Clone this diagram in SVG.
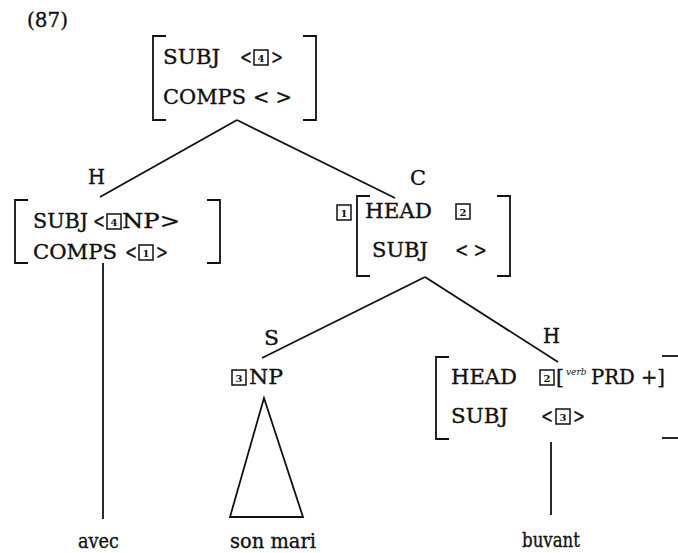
<svg xmlns="http://www.w3.org/2000/svg" width="678" height="553" viewBox="0 0 678 553">
<style>
.t{font-family:"DejaVu Serif","Liberation Serif",serif;font-size:20px;fill:#111;stroke:#111;stroke-width:0.35}
.s{font-family:"DejaVu Serif","Liberation Serif",serif;font-size:9px;font-style:italic;fill:#111}
.n{font-family:"DejaVu Serif","Liberation Serif",serif;font-size:10px;fill:#111;text-anchor:middle;font-weight:bold}
.b{fill:none;stroke:#111;stroke-width:1.8}
.bx{fill:none;stroke:#111;stroke-width:1.5}
.e{fill:none;stroke:#111;stroke-width:1.8}
</style>
<rect width="678" height="553" fill="#fff"/>
<text class="t" x="27" y="27" textLength="41" lengthAdjust="spacingAndGlyphs">(87)</text>

<g id="connectors">
<line class="e" x1="237" y1="120" x2="100" y2="197"/>
<line class="e" x1="237" y1="120" x2="395" y2="198"/>
<line class="e" x1="103" y1="263" x2="103" y2="519"/>
<line class="e" x1="425" y1="277" x2="262" y2="358"/>
<line class="e" x1="425" y1="277" x2="558" y2="362"/>
<polygon class="e" points="264,398 230,517 303,517"/>
<line class="e" x1="551" y1="442" x2="551" y2="515"/>
</g>

<g id="n-top">
<path class="b" d="M166,36 H153 V120 H166"/>
<path class="b" d="M303,36 H316 V120 H303"/>
<text class="t" x="163" y="64" textLength="57" lengthAdjust="spacingAndGlyphs">SUBJ</text>
<text class="t" x="240" y="64" textLength="12" lengthAdjust="spacingAndGlyphs">&lt;</text>
<rect class="bx" x="254" y="50" width="14" height="15"/><text class="n" x="261" y="61.5">4</text>
<text class="t" x="271" y="64" textLength="12" lengthAdjust="spacingAndGlyphs">&gt;</text>
<text class="t" x="163" y="104" textLength="83" lengthAdjust="spacingAndGlyphs">COMPS</text>
<text class="t" x="253" y="104" textLength="39" lengthAdjust="spacingAndGlyphs">&lt; &gt;</text>
</g>

<g id="n-h1">
<text class="t" x="88" y="184" textLength="17" lengthAdjust="spacingAndGlyphs">H</text>
<path class="b" d="M28,200 H15 V263 H28"/>
<path class="b" d="M207,200 H220 V263 H207"/>
<text class="t" x="33" y="228" textLength="55" lengthAdjust="spacingAndGlyphs">SUBJ</text>
<text class="t" x="93" y="228" textLength="12" lengthAdjust="spacingAndGlyphs">&lt;</text>
<rect class="bx" x="107" y="214" width="14" height="15"/><text class="n" x="114" y="225.5">4</text>
<text class="t" x="122" y="228" textLength="58" lengthAdjust="spacingAndGlyphs">NP&gt;</text>
<text class="t" x="33" y="259" textLength="84" lengthAdjust="spacingAndGlyphs">COMPS</text>
<text class="t" x="125" y="259" textLength="12" lengthAdjust="spacingAndGlyphs">&lt;</text>
<rect class="bx" x="139" y="245" width="14" height="15"/><text class="n" x="146" y="256.5">1</text>
<text class="t" x="156" y="259" textLength="12" lengthAdjust="spacingAndGlyphs">&gt;</text>
<text class="t" x="78" y="548" textLength="41" lengthAdjust="spacingAndGlyphs">avec</text>
</g>

<g id="n-c">
<text class="t" x="410" y="185" textLength="16" lengthAdjust="spacingAndGlyphs">C</text>
<rect class="bx" x="337" y="205" width="14" height="15"/><text class="n" x="344" y="216.5">1</text>
<path class="b" d="M370,196 H357 V276 H370"/>
<path class="b" d="M497,196 H510 V276 H497"/>
<text class="t" x="365" y="218" textLength="67" lengthAdjust="spacingAndGlyphs">HEAD</text>
<rect class="bx" x="456" y="204" width="14" height="15"/><text class="n" x="463" y="215.5">2</text>
<text class="t" x="372" y="257" textLength="56" lengthAdjust="spacingAndGlyphs">SUBJ</text>
<text class="t" x="455" y="257" textLength="32" lengthAdjust="spacingAndGlyphs">&lt; &gt;</text>
</g>

<g id="n-s">
<text class="t" x="264" y="345" textLength="15" lengthAdjust="spacingAndGlyphs">S</text>
<rect class="bx" x="232" y="370" width="14" height="15"/><text class="n" x="239" y="381.5">3</text>
<text class="t" x="249" y="384" textLength="34" lengthAdjust="spacingAndGlyphs">NP</text>
<text class="t" x="230" y="548" textLength="86" lengthAdjust="spacingAndGlyphs">son mari</text>
</g>

<g id="n-h2">
<text class="t" x="543" y="343" textLength="17" lengthAdjust="spacingAndGlyphs">H</text>
<path class="b" d="M449,357 H436 V439 H449"/>
<path class="b" d="M662,356 H678"/>
<path class="b" d="M662,438 H678"/>
<text class="t" x="451" y="384" textLength="66" lengthAdjust="spacingAndGlyphs">HEAD</text>
<rect class="bx" x="540" y="370" width="14" height="15"/><text class="n" x="547" y="381.5">2</text>
<text class="t" x="556" y="384" textLength="8" lengthAdjust="spacingAndGlyphs">[</text>
<text class="s" x="566" y="375">verb</text>
<text class="t" x="591" y="384" textLength="74" lengthAdjust="spacingAndGlyphs">PRD +]</text>
<text class="t" x="451" y="423" textLength="57" lengthAdjust="spacingAndGlyphs">SUBJ</text>
<text class="t" x="541" y="423" textLength="12" lengthAdjust="spacingAndGlyphs">&lt;</text>
<rect class="bx" x="556" y="409" width="14" height="15"/><text class="n" x="563" y="420.5">3</text>
<text class="t" x="573" y="423" textLength="12" lengthAdjust="spacingAndGlyphs">&gt;</text>
<text class="t" x="522" y="547" textLength="58" lengthAdjust="spacingAndGlyphs">buvant</text>
</g>
</svg>
